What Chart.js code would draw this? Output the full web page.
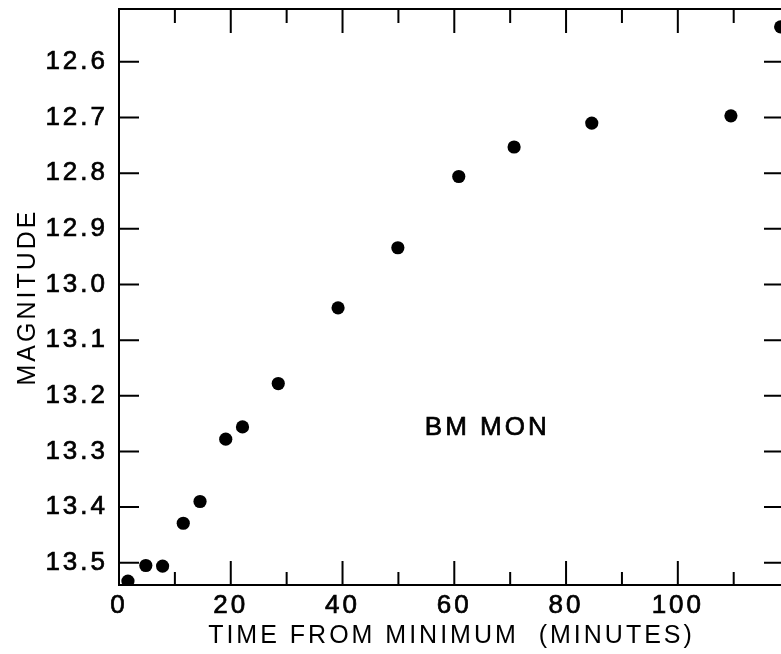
<!DOCTYPE html>
<html lang="en">
<head>
    <meta charset="UTF-8">
    <title>BM MON</title>
    <style>
        html, body {
            margin: 0;
            padding: 0;
            background: #fff;
            overflow: hidden;
        }
        #chart {
            display: block;
        }
    </style>
</head>
<body>
    <canvas id="chart" width="800" height="654"></canvas>

    <script src="https://cdn.jsdelivr.net/npm/chart.js@4/dist/chart.umd.min.js"></script>
    <script>
        // minutes from minimum, magnitude
        const times = [1.6, 4.8, 7.8, 11.5, 14.5, 19.1, 22.1, 28.5, 39.2, 49.9, 60.8, 70.7, 84.6, 109.5, 118.4];
        const mags = [13.533, 13.505, 13.506, 13.429, 13.390, 13.278, 13.256, 13.178, 13.042, 12.934, 12.806, 12.753, 12.710, 12.697, 12.537];

        const xTicks = [0, 20, 40, 60, 80, 100];
        const xMinorTicks = [10, 30, 50, 70, 90, 110];
        const yTicks = [12.6, 12.7, 12.8, 12.9, 13.0, 13.1, 13.2, 13.3, 13.4, 13.5];

        const starLabel = 'BM MON';
        const starLabelAt = {x: 65.9, y: 13.258};

        const fontFamily = '"Liberation Sans", Arial, sans-serif';

        // old hand lettering is widely spaced
        const spacing = {
            id: 'spacing',
            beforeDraw(chart) {
                chart.ctx.letterSpacing = '3px';
            }
        };

        // frame and inward ticks on all four sides
        const frame = {
            id: 'frame',
            afterDatasetsDraw(chart) {
                const {ctx, chartArea: a, scales: {x, y}} = chart;
                ctx.save();
                ctx.strokeStyle = '#000';
                ctx.lineWidth = 2;
                ctx.beginPath();
                ctx.rect(a.left, a.top, a.right - a.left, a.bottom - a.top);

                xTicks.forEach(v => {
                    const px = x.getPixelForValue(v);
                    ctx.moveTo(px, a.bottom); ctx.lineTo(px, a.bottom - 24);
                    ctx.moveTo(px, a.top); ctx.lineTo(px, a.top + 24);
                });
                xMinorTicks.forEach(v => {
                    const px = x.getPixelForValue(v);
                    ctx.moveTo(px, a.bottom); ctx.lineTo(px, a.bottom - 13);
                    ctx.moveTo(px, a.top); ctx.lineTo(px, a.top + 14);
                });
                yTicks.forEach(v => {
                    const py = y.getPixelForValue(v);
                    ctx.moveTo(a.left, py); ctx.lineTo(a.left + 20, py);
                    ctx.moveTo(a.right, py); ctx.lineTo(a.right - 20, py);
                });
                ctx.stroke();

                ctx.fillStyle = '#000';
                ctx.font = '26px ' + fontFamily;
                ctx.textAlign = 'center';
                ctx.textBaseline = 'middle';
                ctx.letterSpacing = '3px';
                ctx.lineWidth = 0.7;
                const lx = x.getPixelForValue(starLabelAt.x);
                const ly = y.getPixelForValue(starLabelAt.y);
                ctx.strokeText(starLabel, lx, ly);
                ctx.fillText(starLabel, lx, ly);
                ctx.restore();
            }
        };

        const ctx = document.getElementById('chart');

        new Chart(ctx, {
            type: 'scatter',
            data: {
                datasets: [{
                    data: times.map((t, i) => ({x: t, y: mags[i]})),
                    pointRadius: 6.6,
                    pointHoverRadius: 6.6,
                    backgroundColor: '#000',
                    borderColor: '#000',
                    borderWidth: 0
                }]
            },
            options: {
                responsive: false,
                animation: false,
                devicePixelRatio: 1,
                layout: {
                    padding: {left: 0, top: 9, right: 16, bottom: 0}
                },
                plugins: {
                    legend: {display: false},
                    tooltip: {enabled: false}
                },
                scales: {
                    x: {
                        type: 'linear',
                        min: 0,
                        max: 119,
                        afterBuildTicks: scale => {
                            scale.ticks = xTicks.map(v => ({value: v}));
                        },
                        afterFit: scale => {
                            scale.height = 69;
                            scale.paddingLeft = 0;
                            scale.paddingRight = 0;
                        },
                        grid: {display: false, drawTicks: false},
                        border: {display: false},
                        ticks: {
                            color: '#000',
                            textStrokeColor: '#000',
                            textStrokeWidth: 0.7,
                            padding: 5,
                            maxRotation: 0,
                            autoSkip: false,
                            font: {family: fontFamily, size: 26}
                        },
                        title: {
                            display: true,
                            text: 'TIME FROM MINIMUM  (MINUTES)',
                            color: '#000',
                            padding: {top: 0, bottom: 3},
                            font: {family: fontFamily, size: 25}
                        }
                    },
                    y: {
                        type: 'linear',
                        reverse: true,
                        min: 12.505,
                        max: 13.54,
                        afterBuildTicks: scale => {
                            scale.ticks = yTicks.map(v => ({value: v}));
                        },
                        afterFit: scale => {
                            scale.width = 119;
                            scale.paddingTop = 0;
                            scale.paddingBottom = 0;
                        },
                        grid: {display: false, drawTicks: false},
                        border: {display: false},
                        ticks: {
                            color: '#000',
                            textStrokeColor: '#000',
                            textStrokeWidth: 0.7,
                            padding: 11,
                            autoSkip: false,
                            font: {family: fontFamily, size: 26},
                            callback: v => v.toFixed(1)
                        },
                        title: {
                            display: true,
                            text: 'MAGNITUDE',
                            color: '#000',
                            padding: {top: 13, bottom: 0},
                            font: {family: fontFamily, size: 25}
                        }
                    }
                }
            },
            plugins: [spacing, frame]
        });
    </script>
</body>
</html>
